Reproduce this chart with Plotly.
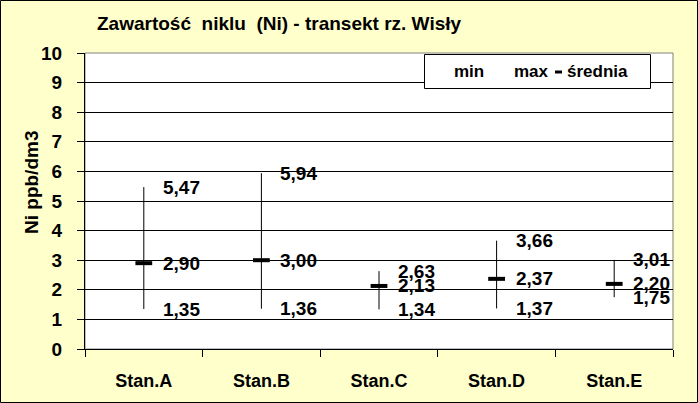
import plotly.graph_objects as go

categories = ["Stan.A", "Stan.B", "Stan.C", "Stan.D", "Stan.E"]
min_vals = [1.35, 1.36, 1.34, 1.37, 1.75]
max_vals = [5.47, 5.94, 2.63, 3.66, 3.01]
mean_vals = [2.90, 3.00, 2.13, 2.37, 2.20]
y_ticks = [0, 1, 2, 3, 4, 5, 6, 7, 8, 9, 10]

W, H = 698, 403
L, R, T, B = 85, 25, 53, 54
PW, PH = W - L - R, H - T - B

FONT = "Arial, Liberation Sans, sans-serif"


def fmt(v):
    return f"{v:.2f}".replace(".", ",")


def px_x(p):
    return (p - L) / PW


def px_y(p):
    return 1 - (p - T) / PH


fig = go.Figure()

# high-low lines
xs, ys = [], []
for c, lo, hi in zip(categories, min_vals, max_vals):
    xs += [c, c, None]
    ys += [lo, hi, None]
fig.add_trace(go.Scatter(x=xs, y=ys, mode="lines", line=dict(color="black", width=1),
                         showlegend=False, hoverinfo="skip"))

# mean markers
fig.add_trace(go.Scatter(x=categories, y=mean_vals, mode="markers", name="średnia",
                         marker=dict(symbol="line-ew", size=12, color="black",
                                     line=dict(color="black", width=4)),
                         showlegend=False))

annotations = []
for c, lo, hi, m in zip(categories, min_vals, max_vals, mean_vals):
    for v in (hi, m, lo):
        annotations.append(dict(x=c, y=v, xref="x", yref="y", text=f"<b>{fmt(v)}</b>",
                                showarrow=False, xanchor="left", yanchor="middle", xshift=17,
                                font=dict(family=FONT, size=19, color="black")))

# y axis title
annotations.append(dict(x=px_x(31), y=px_y(183), xref="paper", yref="paper",
                        text="<b>Ni ppb/dm3</b>", textangle=-90, showarrow=False,
                        xanchor="center", yanchor="middle",
                        font=dict(family=FONT, size=19, color="black")))

# legend texts
for txt, xp in (("min", 452), ("max", 512), ("średnia", 565)):
    annotations.append(dict(x=px_x(xp), y=px_y(72), xref="paper", yref="paper",
                            text=f"<b>{txt}</b>", showarrow=False, xanchor="left",
                            yanchor="middle", font=dict(family=FONT, size=17, color="black")))

shapes = [
    # plot frame gray
    dict(type="rect", xref="paper", yref="paper", x0=0, x1=1, y0=0, y1=1,
         line=dict(color="#808080", width=1), layer="below"),
    # legend box
    dict(type="rect", xref="paper", yref="paper", x0=px_x(424.5), x1=px_x(650.5),
         y0=px_y(88.5), y1=px_y(54.5), line=dict(color="black", width=1),
         fillcolor="white", layer="above"),
    # legend mean symbol
    dict(type="line", xref="paper", yref="paper", x0=px_x(555), x1=px_x(562),
         y0=px_y(72), y1=px_y(72), line=dict(color="black", width=3), layer="above"),
    # outer border
    dict(type="rect", xref="paper", yref="paper", x0=px_x(0.5), x1=px_x(W - 0.5),
         y0=px_y(H - 0.5), y1=px_y(0.5), line=dict(color="black", width=1), layer="below"),
]

fig.update_layout(
    width=W, height=H,
    margin=dict(l=L, r=R, t=T, b=B),
    paper_bgcolor="#FFFFCC",
    plot_bgcolor="white",
    showlegend=False,
    title=dict(text="<b>Zawartość  niklu  (Ni) - transekt rz. Wisły</b>",
               x=97 / W, xanchor="left", y=1 - 23 / H, yanchor="middle",
               font=dict(family=FONT, size=19, color="black")),
    xaxis=dict(type="category", range=[-0.5, 4.5], tickson="boundaries",
               ticks="outside", ticklen=7, tickcolor="black", showline=True,
               linecolor="black", linewidth=1, showgrid=False,
               tickfont=dict(family=FONT, size=18, color="black"),
               ticklabelstandoff=15, categoryorder="array", categoryarray=categories,
               tickvals=categories, ticktext=[f"<b>{c}</b>" for c in categories]),
    yaxis=dict(range=[0, 10], tickvals=y_ticks, ticktext=[f"<b>{v}</b>" for v in y_ticks],
               ticks="outside", ticklen=7, tickcolor="black", showline=True,
               linecolor="black", linewidth=1, showgrid=True, gridcolor="black",
               gridwidth=1, zeroline=False,
               tickfont=dict(family=FONT, size=19, color="black"),
               ticklabelstandoff=11),
    annotations=annotations,
    shapes=shapes,
)

fig.write_html("out.html")
